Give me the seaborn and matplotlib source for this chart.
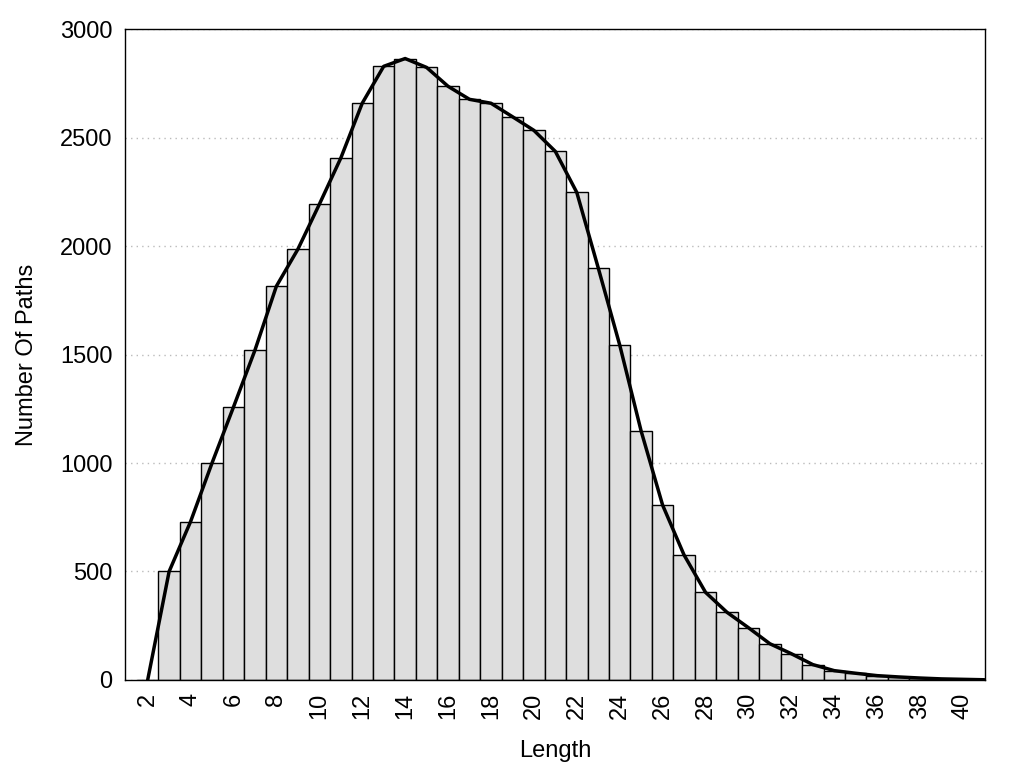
import numpy as np
import matplotlib
matplotlib.use("Agg")
import matplotlib.pyplot as plt
import seaborn as sns

# path length histogram
lengths = list(range(2, 42))
counts = [0, 500, 730, 1000, 1258, 1520, 1815, 1985, 2192, 2405,
          2658, 2828, 2864, 2823, 2736, 2676, 2658, 2596, 2533, 2436,
          2247, 1899, 1544, 1147, 806, 576, 404, 312, 241, 167,
          121, 71, 43, 31, 20, 14, 9, 5, 3, 1]
y_ticks = [0, 500, 1000, 1500, 2000, 2500, 3000]

sns.set_style("white")
plt.rcParams["font.family"] = ["Liberation Sans", "DejaVu Sans"]
plt.rcParams["text.color"] = "black"
plt.rcParams["axes.labelcolor"] = "black"

fig = plt.figure(figsize=(10.24, 7.68), dpi=100)
ax = fig.add_axes([0.122, 0.1146, 0.84, 0.8476])

sns.barplot(x=lengths, y=counts, native_scale=True, width=1.0, color="#dedede",
            saturation=1, edgecolor="black", linewidth=1.0, ax=ax, zorder=2)
sns.lineplot(x=lengths, y=counts, color="black", linewidth=2.5, ax=ax, zorder=3)

ax.set_xlim(0.94, 41.03)
ax.set_ylim(0, 3000)
ax.set_yticks(y_ticks)
ax.set_yticklabels([str(v) for v in y_ticks], fontsize=17)
ax.set_xticks(lengths[:-1])
ax.set_xticklabels([str(v) if v % 2 == 0 else "" for v in lengths[:-1]],
                   rotation=90, fontsize=17)
ax.tick_params(axis="y", direction="in", length=8.5, width=1, pad=9,
               color="black", labelcolor="black")
ax.tick_params(axis="x", direction="in", length=7, width=1, pad=9,
               color="black", labelcolor="black")
ax.tick_params(top=False, right=False)

ax.yaxis.grid(True, linestyle=(0, (1, 3)), color="#bbbbbb", linewidth=1)
ax.xaxis.grid(False)
ax.set_axisbelow(True)

for s in ax.spines.values():
    s.set_color("black")
    s.set_linewidth(1)
    s.set_zorder(4)

ax.set_xlabel("Length", fontsize=17, labelpad=15)
ax.set_ylabel("Number Of Paths", fontsize=17, labelpad=16)

fig.savefig("out.png", dpi=100)
